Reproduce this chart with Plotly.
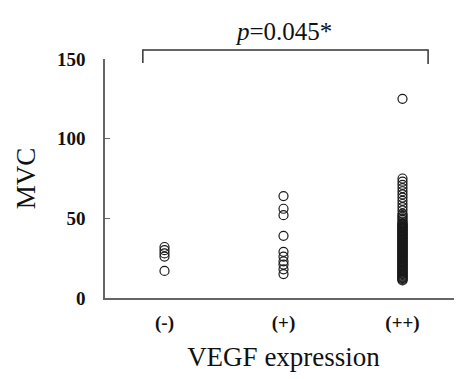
import plotly.graph_objects as go

categories = ["(-)", "(+)", "(++)"]
neg_values = [32, 30, 28, 26, 17]
pos_values = [64, 56, 52, 39, 29, 26, 23, 21, 18, 15]
pp_values = [125, 75, 73, 71, 69, 67, 65, 63, 61, 59, 57, 55, 53, 52, 51, 50, 49, 48,
             47, 46.5, 46, 45.5, 45, 44.5, 44, 43.5, 43, 42.5, 42, 41.5, 41, 40.5, 40,
             39.5, 39, 38.5, 38, 37.5, 37, 36.5, 36, 35.5, 35, 34.5, 34, 33.5, 33, 32.5,
             32, 31.5, 31, 30.5, 30, 29.5, 29, 28.5, 28, 27.5, 27, 26.5, 26, 25.5, 25,
             24.5, 24, 23.5, 23, 22.5, 22, 21.5, 21, 20.5, 20, 19.5, 19, 18.5, 18, 17.5,
             17, 16.5, 16, 15.5, 15, 14.5, 14, 13.5, 13, 12.5, 12, 11.5, 11]
y_ticks = [0, 50, 100, 150]
p_label = "<i>p</i>=0.045*"

FONT = "Liberation Serif, Times New Roman, serif"
groups = [neg_values, pos_values, pp_values]

fig = go.Figure()
for i, vals in enumerate(groups):
    fig.add_trace(go.Scatter(
        x=[i] * len(vals), y=vals, mode="markers",
        marker=dict(symbol="circle-open", size=9, color="#1a1a1a",
                    line=dict(width=1.2, color="#1a1a1a")),
        cliponaxis=False, showlegend=False, hoverinfo="y"))

fig.update_layout(
    width=454, height=371,
    margin=dict(l=97, r=0, t=51, b=81),
    paper_bgcolor="white", plot_bgcolor="white",
    font=dict(family=FONT, color="#111"),
    xaxis=dict(range=[-0.5, 2.5], tickvals=[0, 1, 2],
               ticktext=["<b>%s</b>" % c for c in categories],
               showgrid=False, zeroline=False, showline=True, linecolor="#666",
               linewidth=1.5, ticks="", tickfont=dict(size=19, family=FONT),
               ticklabelstandoff=6, automargin=False,
               title=dict(text="VEGF expression", font=dict(size=27, family=FONT),
                          standoff=15)),
    yaxis=dict(range=[0, 150], tickvals=y_ticks,
               ticktext=["<b>%d</b>" % v for v in y_ticks],
               showgrid=False, zeroline=False, automargin=False,
               showline=True, linecolor="#666", linewidth=1.5, ticks="inside",
               ticklen=5, tickcolor="#666", tickwidth=1.2,
               tickfont=dict(size=19, family=FONT), ticklabelstandoff=14,
               title=dict(text="MVC", font=dict(size=27, family=FONT), standoff=14)),
)

# significance bracket
fig.add_shape(type="path", xref="paper", yref="paper",
              path="M 0.106 0.983 L 0.106 1.038 L 0.905 1.038 L 0.905 0.979",
              line=dict(color="#333", width=1.5))
fig.add_annotation(x=0.5, y=1.117, xref="paper", yref="paper", text=p_label,
                   yanchor="middle", xanchor="center",
                   showarrow=False, font=dict(size=25, family=FONT, color="#111"))

fig.write_html("out.html")
